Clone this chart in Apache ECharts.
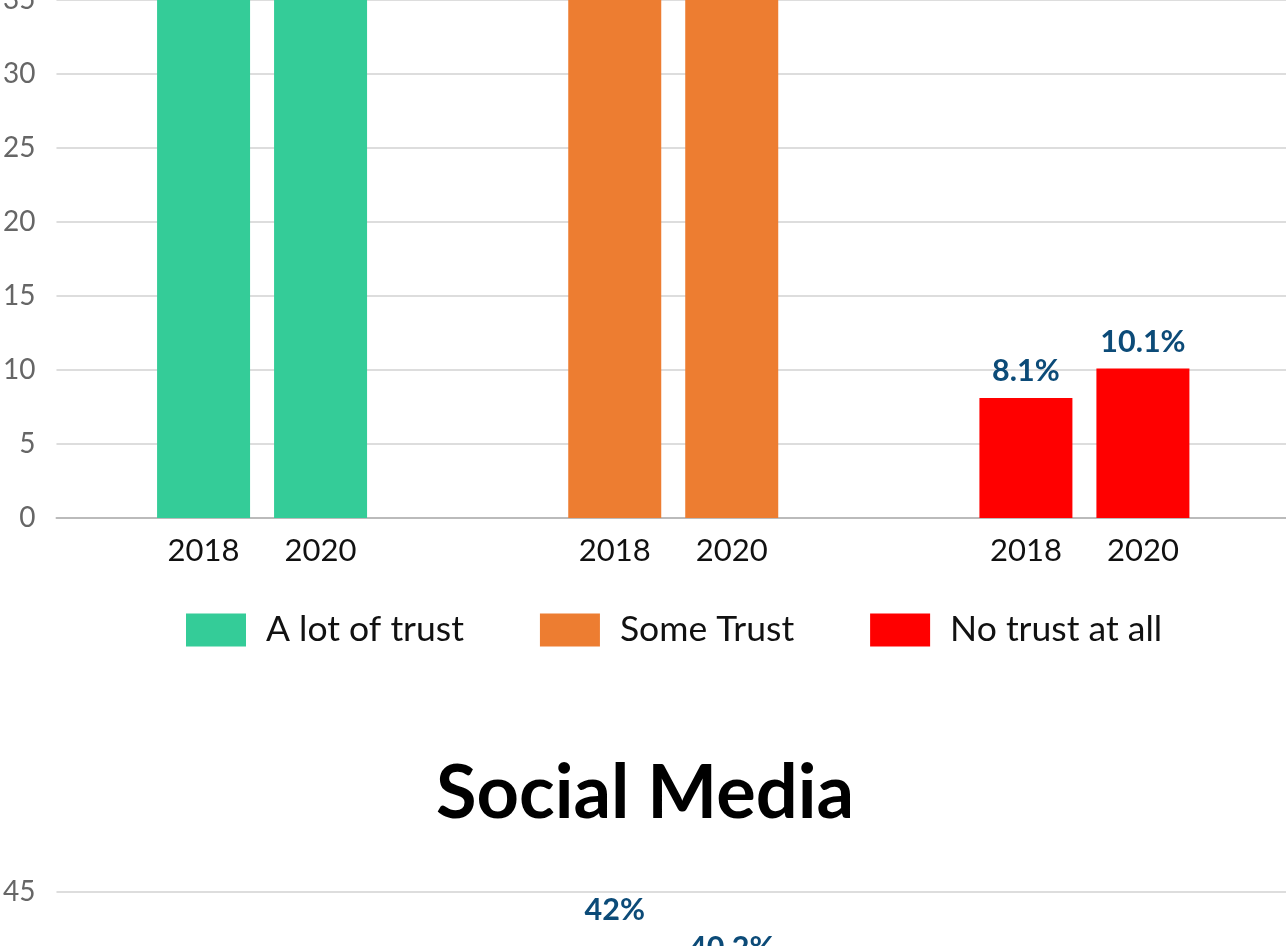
<!DOCTYPE html>
<html>
<head>
<meta charset="utf-8">
<script src="https://cdn.jsdelivr.net/npm/echarts@6/dist/echarts.min.js"></script>
<style>
  html, body { margin: 0; padding: 0; overflow: hidden; background: #fff; width: 1286px; height: 946px; }
  #c { position: absolute; left: 0; top: -300px; width: 1290px; height: 2400px; }
</style>
</head>
<body>
<div id="c"></div>
<script>
// ---- data ----
const trustLevels = ['A lot of trust', 'Some Trust', 'No trust at all'];
const years = ['2018', '2020'];
const levelColors = ['#34CC98', '#ED7D31', '#FF0000'];
// first chart (upper panel) – green/orange values lie above the visible area (estimated)
const upper2018 = [44.6, 47.3, 8.1];
const upper2020 = [42.5, 47.4, 10.1];
// "Social Media" panel – only the orange labels are visible (others estimated)
const social2018 = [30.5, 42, 27.5];
const social2020 = [27.3, 40.2, 32.5];
const upperMax = 50;
const socialMax = 45;
const tickStep = 5;
const socialTitle = 'Social Media';

const FONT = 'Lato, "Noto Sans", sans-serif';

function barSeries(name, values, gi, labelDist) {
  return {
    type: 'bar',
    name: name,
    xAxisIndex: gi,
    yAxisIndex: gi,
    barWidth: 93,
    barGap: '25.8%',
    data: values.map((v, i) => ({ value: v, itemStyle: { color: levelColors[i] } })),
    label: {
      show: true,
      position: 'top',
      distance: labelDist,
      formatter: '{c}%',
      fontSize: 30.5,
      fontWeight: 'bold',
      color: '#0c4b78',
      fontFamily: FONT
    }
  };
}

function xAxisDef(gi) {
  return {
    type: 'category',
    gridIndex: gi,
    data: trustLevels,
    axisTick: { show: false },
    axisLine: { lineStyle: { color: '#bbbbbb', width: 2 } },
    axisLabel: {
      interval: 0,
      margin: 17,
      formatter: () => years.map(y => '{y|' + y + '}').join(''),
      rich: { y: { width: 117, align: 'center', fontSize: 31, color: '#111', fontFamily: FONT } }
    }
  };
}

function yAxisDef(gi, max) {
  return {
    type: 'value',
    gridIndex: gi,
    min: 0,
    max: max,
    interval: tickStep,
    axisLine: { show: false },
    axisTick: { show: false },
    axisLabel: { margin: 21, fontSize: 28, color: '#666', fontFamily: FONT },
    splitLine: { lineStyle: { color: '#dddddd', width: 2 } }
  };
}

function legendDummies(gi) {
  return trustLevels.map((n, i) => ({
    type: 'scatter', name: n, xAxisIndex: gi, yAxisIndex: gi, data: [],
    itemStyle: { color: levelColors[i], opacity: 1 }
  }));
}

function legendDef(top) {
  return {
    data: trustLevels,
    icon: 'rect',
    left: 186,
    top: top,
    padding: 0,
    itemWidth: 60,
    itemHeight: 33,
    itemGap: 76,
    selectedMode: false,
    itemStyle: { opacity: 1 },
    textStyle: { fontSize: 35.5, color: '#111', fontFamily: FONT, padding: [0, 0, 0, 15] }
  };
}

const chart = echarts.init(document.getElementById('c'), null, { renderer: 'canvas' });
chart.setOption({
  animation: false,
  title: [{
    text: socialTitle,
    left: 'center',
    top: 1057,
    padding: 0,
    textStyle: { fontSize: 74, fontWeight: 'bold', color: '#000', fontFamily: FONT }
  }],
  legend: [legendDef(912), legendDef(2245)],
  grid: [
    { left: 54, right: 0, top: 78, height: 740 },
    { left: 54, right: 0, top: 1192, height: 945 }
  ],
  xAxis: [xAxisDef(0), xAxisDef(1)],
  yAxis: [yAxisDef(0, upperMax), yAxisDef(1, socialMax)],
  series: [
    barSeries(years[0], upper2018, 0, 11),
    barSeries(years[1], upper2020, 0, 11),
    barSeries(years[0], social2018, 1, 29),
    barSeries(years[1], social2020, 1, 29),
    ...legendDummies(0)
  ]
});
</script>
</body>
</html>
